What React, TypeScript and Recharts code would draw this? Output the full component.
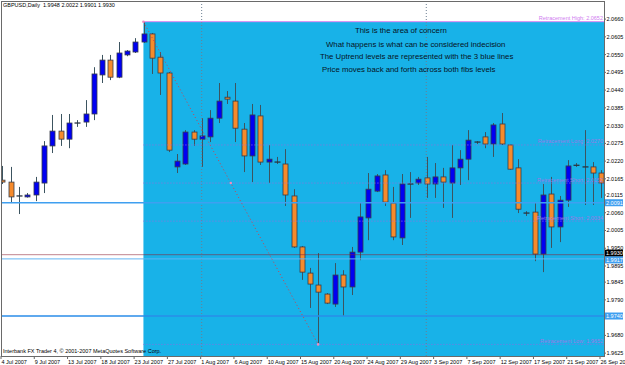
import React from 'react';
import {
  ComposedChart,
  Bar,
  XAxis,
  YAxis,
  ReferenceArea,
  ReferenceLine,
  ReferenceDot,
} from 'recharts';

// GBPUSD daily, 4 Jul 2007 .. 26 Sep 2007 (Sunday bars included)
const opens = [
  2.0161, 2.0155, 2.0112, 2.0109, 2.0115, 2.0152, 2.0267, 2.0313, 2.0288, 2.0338,
  2.0341, 2.0366, 2.0487, 2.0533, 2.0480, 2.0549, 2.0558, 2.0589, 2.0614, 2.0542,
  2.0493, 2.0202, 2.0211, 2.0310, 2.0288, 2.0295, 2.0353, 2.0418, 2.0406, 2.0319,
  2.0236, 2.0360, 2.0217, 2.0217, 2.0211, 2.0112, 1.9954, 1.9873, 1.9836, 1.9808,
  1.9777, 1.9867, 1.9830, 1.9938, 2.0044, 2.0127, 2.0177, 2.0090, 1.9982, 2.0149,
  2.0152, 2.0168, 2.0149, 2.0171, 2.0152, 2.0199, 2.0226, 2.0279, 2.0295, 2.0273,
  2.0335, 2.0270, 2.0199, 2.0059, 2.0062, 1.9932, 2.0118, 2.0016, 2.0099, 2.0207,
  2.0202, 2.0202, 2.0183,
];
const highs = [
  2.0205, 2.0202, 2.0140, 2.0121, 2.0171, 2.0282, 2.0363, 2.0366, 2.0366, 2.0347,
  2.0409, 2.0511, 2.0549, 2.0549, 2.0589, 2.0564, 2.0601, 2.0652, 2.0617, 2.0558,
  2.0496, 2.0242, 2.0316, 2.0316, 2.0353, 2.0378, 2.0462, 2.0437, 2.0462, 2.0338,
  2.0397, 2.0394, 2.0270, 2.0233, 2.0257, 2.0133, 1.9957, 1.9889, 1.9935, 1.9811,
  1.9904, 1.9882, 1.9954, 2.0090, 2.0183, 2.0180, 2.0192, 2.0140, 2.0180, 2.0186,
  2.0171, 2.0233, 2.0214, 2.0199, 2.0270, 2.0254, 2.0316, 2.0282, 2.0310, 2.0338,
  2.0369, 2.0271, 2.0226, 2.0065, 2.0090, 2.0149, 2.0171, 2.0112, 2.0223, 2.0214,
  2.0316, 2.0217, 2.0192,
];
const lows = [
  2.0149, 2.0090, 2.0056, 2.0107, 2.0096, 2.0121, 2.0245, 2.0267, 2.0260, 2.0326,
  2.0326, 2.0347, 2.0462, 2.0471, 2.0477, 2.0545, 2.0555, 2.0586, 2.0490, 2.0425,
  2.0248, 2.0183, 2.0208, 2.0267, 2.0202, 2.0279, 2.0338, 2.0397, 2.0279, 2.0186,
  2.0155, 2.0208, 2.0152, 2.0211, 2.0081, 1.9951, 1.9852, 1.9765, 1.9652, 1.9777,
  1.9768, 1.9740, 1.9805, 1.9913, 1.9975, 2.0124, 2.0081, 1.9975, 1.9960, 2.0044,
  2.0146, 2.0106, 2.0106, 2.0075, 2.0044, 2.0146, 2.0161, 2.0273, 2.0260, 2.0233,
  2.0270, 2.0193, 2.0059, 2.0050, 1.9910, 1.9876, 1.9951, 1.9969, 2.0078, 2.0202,
  2.0084, 2.0084, 2.0106,
];
const closes = [
  2.0155, 2.0109, 2.0112, 2.0115, 2.0155, 2.0267, 2.0313, 2.0288, 2.0338, 2.0338,
  2.0366, 2.0490, 2.0533, 2.0480, 2.0555, 2.0561, 2.0589, 2.0614, 2.0539, 2.0493,
  2.0254, 2.0220, 2.0310, 2.0288, 2.0298, 2.0353, 2.0406, 2.0412, 2.0322, 2.0236,
  2.0363, 2.0217, 2.0226, 2.0217, 2.0115, 1.9954, 1.9876, 1.9839, 1.9814, 1.9780,
  1.9867, 1.9830, 1.9938, 2.0047, 2.0133, 2.0174, 2.0093, 1.9985, 2.0149, 2.0149,
  2.0164, 2.0149, 2.0171, 2.0155, 2.0199, 2.0226, 2.0285, 2.0279, 2.0273, 2.0332,
  2.0273, 2.0195, 2.0071, 2.0059, 1.9932, 2.0115, 2.0016, 2.0099, 2.0205, 2.0207,
  2.0202, 2.0183, 2.0152,
];

const dateLabels = [
  '4 Jul 2007', '9 Jul 2007', '13 Jul 2007', '18 Jul 2007', '23 Jul 2007',
  '27 Jul 2007', '1 Aug 2007', '6 Aug 2007', '10 Aug 2007', '15 Aug 2007',
  '20 Aug 2007', '24 Aug 2007', '29 Aug 2007', '3 Sep 2007', '7 Sep 2007',
  '12 Sep 2007', '17 Sep 2007', '21 Sep 2007', '26 Sep 2007',
];
const dateTickBars = dateLabels.map((_, k) => k * 4);

// 1.9735 sits under the 1.9740 tag in the original, so it is left out
const priceTicks = [
  2.066, 2.0605, 2.055, 2.0495, 2.044, 2.0385, 2.033, 2.0275, 2.022, 2.0165,
  2.0115, 2.006, 2.0005, 1.995, 1.9895, 1.9845, 1.979, 1.968, 1.9625,
];

// horizontal levels with their price tags on the axis
const levelPrices = [2.0091, 1.993, 1.9917, 1.974];

// fibonacci retracement (anchor bars 17 -> 38)
const fibHigh = 2.0652;
const fibLow = 1.9652;
const fibLevels = [2.027, 2.0152, 2.0034];
const fibNames = ['Retracement Long', 'Retracement Short', 'Retracement Short'];
const fibStartBar = 17;
const fibEndBar = 38;

const separatorBars = [24, 51];

const notes = [
  'This is the area of concern',
  'What happens is what can be considered indecision',
  'The Uptrend levels are represented with the 3 blue lines',
  'Price moves back and forth across both fibs levels',
];

const rows = opens.map((o, i) => ({
  i,
  open: o,
  high: highs[i],
  low: lows[i],
  close: closes[i],
}));

const X_MAX = 72.36;
const Y_MIN = 1.96161;
const Y_MAX = 2.0713;

const FONT = '"Liberation Sans", Arial, sans-serif';

const Candle = (props: any) => {
  const { x, y, width, height, payload } = props;
  const { open, close, high, low } = payload;
  const ratio = height / (high - low);
  const cx = Math.round(x + width / 2) + 0.5;
  const yOpen = y + (high - open) * ratio;
  const yClose = y + (high - close) * ratio;
  const top = Math.min(yOpen, yClose);
  const bodyH = Math.abs(yOpen - yClose);
  const up = close > open;

  return (
    <g>
      <line x1={cx} x2={cx} y1={y} y2={y + height} stroke="#3c5460" strokeWidth={1} />
      {bodyH < 0.8 ? (
        <line x1={cx - 3} x2={cx + 3} y1={yOpen} y2={yOpen} stroke="#2a3440" strokeWidth={1.3} />
      ) : (
        <rect
          x={cx - 2.5}
          y={top}
          width={5}
          height={bodyH}
          fill={up ? '#0000f2' : '#f68b2c'}
          stroke="#383c48"
          strokeWidth={0.8}
        />
      )}
    </g>
  );
};

const DateTick = ({ x, y, payload }: any) => (
  <g>
    <line x1={x - 1} x2={x - 1} y1={y} y2={y + 3} stroke="#666" />
    <text x={x - 0.5} y={y + 7.5} fontSize={5.5} fill="#000" fontFamily={FONT}>
      {dateLabels[Math.round(payload.value / 4)]}
    </text>
  </g>
);

const PriceTick = ({ x, y, payload }: any) => (
  <g>
    <line x1={x} x2={x + 2} y1={y} y2={y} stroke="#666" />
    <text x={x + 2.5} y={y + 2} fontSize={5.5} fill="#000" fontFamily={FONT}>
      {payload.value.toFixed(4)}
    </text>
  </g>
);

const PriceTag = ({ viewBox, value, bg, dy = 0 }: any) => {
  const { x, y, width } = viewBox;
  const left = x + width + 1;
  return (
    <g>
      <rect x={left} y={y - 3.5 + dy} width={18} height={7} fill={bg} />
      <text x={left + 1} y={y + 2 + dy} fontSize={5.5} fill="#fff" fontFamily={FONT}>
        {value.toFixed(4)}
      </text>
    </g>
  );
};

const FibLabel = ({ viewBox, text, color }: any) => {
  const { x, y, width } = viewBox;
  return (
    <text x={x + width - 1} y={y - 1.5} textAnchor="end" fontSize={5.5} fill={color} fontFamily={FONT}>
      {text}
    </text>
  );
};

const levelStyles = [
  { stroke: '#3f9ff0', width: 1.6, bg: '#3f9ff0', dy: 0, opacity: 1 },
  { stroke: '#8c1e32', width: 1, bg: '#000000', dy: -1.5, opacity: 0.55 },
  { stroke: '#62b4f4', width: 1, bg: '#3f9ff0', dy: 1, opacity: 1 },
  { stroke: '#2a8ce8', width: 1.3, bg: '#3f9ff0', dy: 0, opacity: 1 },
];

const noteSpots = [
  { left: 355, top: 26 },
  { left: 326, top: 39.5 },
  { left: 320, top: 52 },
  { left: 322, top: 64.5 },
];

export default function App() {
  return (
    <div
      style={{
        position: 'fixed',
        left: 0,
        top: 0,
        width: 625,
        height: 365,
        background: '#fff',
        fontFamily: FONT,
        overflow: 'hidden',
      }}
    >
      <ComposedChart
        width={625}
        height={365}
        data={rows}
        margin={{ top: 2, right: 0, bottom: 0, left: 2 }}
      >
        <XAxis
          dataKey="i"
          type="number"
          domain={[0, X_MAX]}
          allowDataOverflow
          ticks={dateTickBars}
          interval={0}
          height={9}
          tickSize={0}
          tickMargin={0}
          axisLine={false}
          tick={<DateTick />}
        />
        <YAxis
          orientation="right"
          type="number"
          domain={[Y_MIN, Y_MAX]}
          allowDataOverflow
          ticks={priceTicks}
          interval={0}
          width={21}
          tickSize={0}
          tickMargin={0}
          axisLine={false}
          tick={<PriceTick />}
        />

        {/* area of concern */}
        <ReferenceArea
          x1={fibStartBar}
          x2={X_MAX}
          y1={Y_MIN}
          y2={fibHigh}
          fill="#18b2e8"
          fillOpacity={1}
          stroke="none"
          ifOverflow="hidden"
        />

        {/* month separators */}
        {separatorBars.map((b) => (
          <ReferenceLine key={b} x={b} stroke="#6d7f92" strokeDasharray="1 2" />
        ))}

        {/* uptrend levels + price tags */}
        {levelPrices.map((p, k) => (
          <ReferenceLine
            key={p}
            y={p}
            stroke={levelStyles[k].stroke}
            strokeWidth={levelStyles[k].width}
            strokeOpacity={levelStyles[k].opacity}
            label={<PriceTag value={p} bg={levelStyles[k].bg} dy={levelStyles[k].dy} />}
          />
        ))}

        {/* fibonacci levels */}
        <ReferenceLine
          segment={[
            { x: fibStartBar, y: fibHigh },
            { x: X_MAX, y: fibHigh },
          ]}
          stroke="#dc86f2"
          label={<FibLabel text={`Retracement High: ${fibHigh.toFixed(4)}`} color="#d07cf0" />}
        />
        {fibLevels.map((p, k) => (
          <ReferenceLine
            key={p}
            segment={[
              { x: fibStartBar, y: p },
              { x: X_MAX, y: p },
            ]}
            stroke="#9370db"
            strokeDasharray="1 2"
            label={<FibLabel text={`${fibNames[k]}: ${p.toFixed(4)}`} color="#9d78e6" />}
          />
        ))}
        <ReferenceLine
          segment={[
            { x: fibStartBar, y: fibLow },
            { x: X_MAX, y: fibLow },
          ]}
          stroke="#8a6ee0"
          strokeDasharray="1 2"
          label={<FibLabel text={`Retracement Low: ${fibLow.toFixed(4)}`} color="#9d78e6" />}
        />
        <ReferenceLine
          segment={[
            { x: fibStartBar, y: fibHigh },
            { x: fibEndBar, y: fibLow },
          ]}
          stroke="#d2404a"
          strokeDasharray="1 2.5"
        />

        <Bar
          dataKey={(d: any) => [d.low, d.high]}
          barSize={5}
          isAnimationActive={false}
          shape={(p: any) => <Candle {...p} />}
        />

        <ReferenceDot x={fibStartBar} y={fibHigh} r={1.3} fill="#f08cc0" stroke="none" />
        <ReferenceDot x={(fibStartBar + fibEndBar) / 2} y={(fibHigh + fibLow) / 2} r={1.3} fill="#f08cc0" stroke="none" />
        <ReferenceDot x={fibEndBar} y={fibLow} r={1.3} fill="#f08cc0" stroke="none" />
      </ComposedChart>

      {/* chart frame */}
      <div
        style={{
          position: 'absolute',
          left: 1,
          top: 1,
          width: 604,
          height: 356,
          boxSizing: 'border-box',
          border: '1px solid #6a6a6a',
          pointerEvents: 'none',
        }}
      />

      <div
        style={{
          position: 'absolute',
          left: 3,
          top: 2,
          fontSize: 5.5,
          lineHeight: '7px',
          color: '#000',
          whiteSpace: 'pre',
        }}
      >
        {'GBPUSD,Daily  1.9948 2.0022 1.9901 1.9930'}
      </div>
      <div
        style={{
          position: 'absolute',
          left: 3,
          top: 348,
          fontSize: 5.5,
          lineHeight: '7px',
          color: '#000',
          whiteSpace: 'pre',
        }}
      >
        {'Interbank FX Trader 4, © 2001-2007 MetaQuotes Software Corp.'}
      </div>

      {notes.map((t, k) => (
        <div
          key={t}
          style={{
            position: 'absolute',
            left: noteSpots[k].left,
            top: noteSpots[k].top,
            fontSize: 7.8,
            lineHeight: '9px',
            color: '#06121e',
            whiteSpace: 'pre',
          }}
        >
          {t}
        </div>
      ))}
    </div>
  );
}
